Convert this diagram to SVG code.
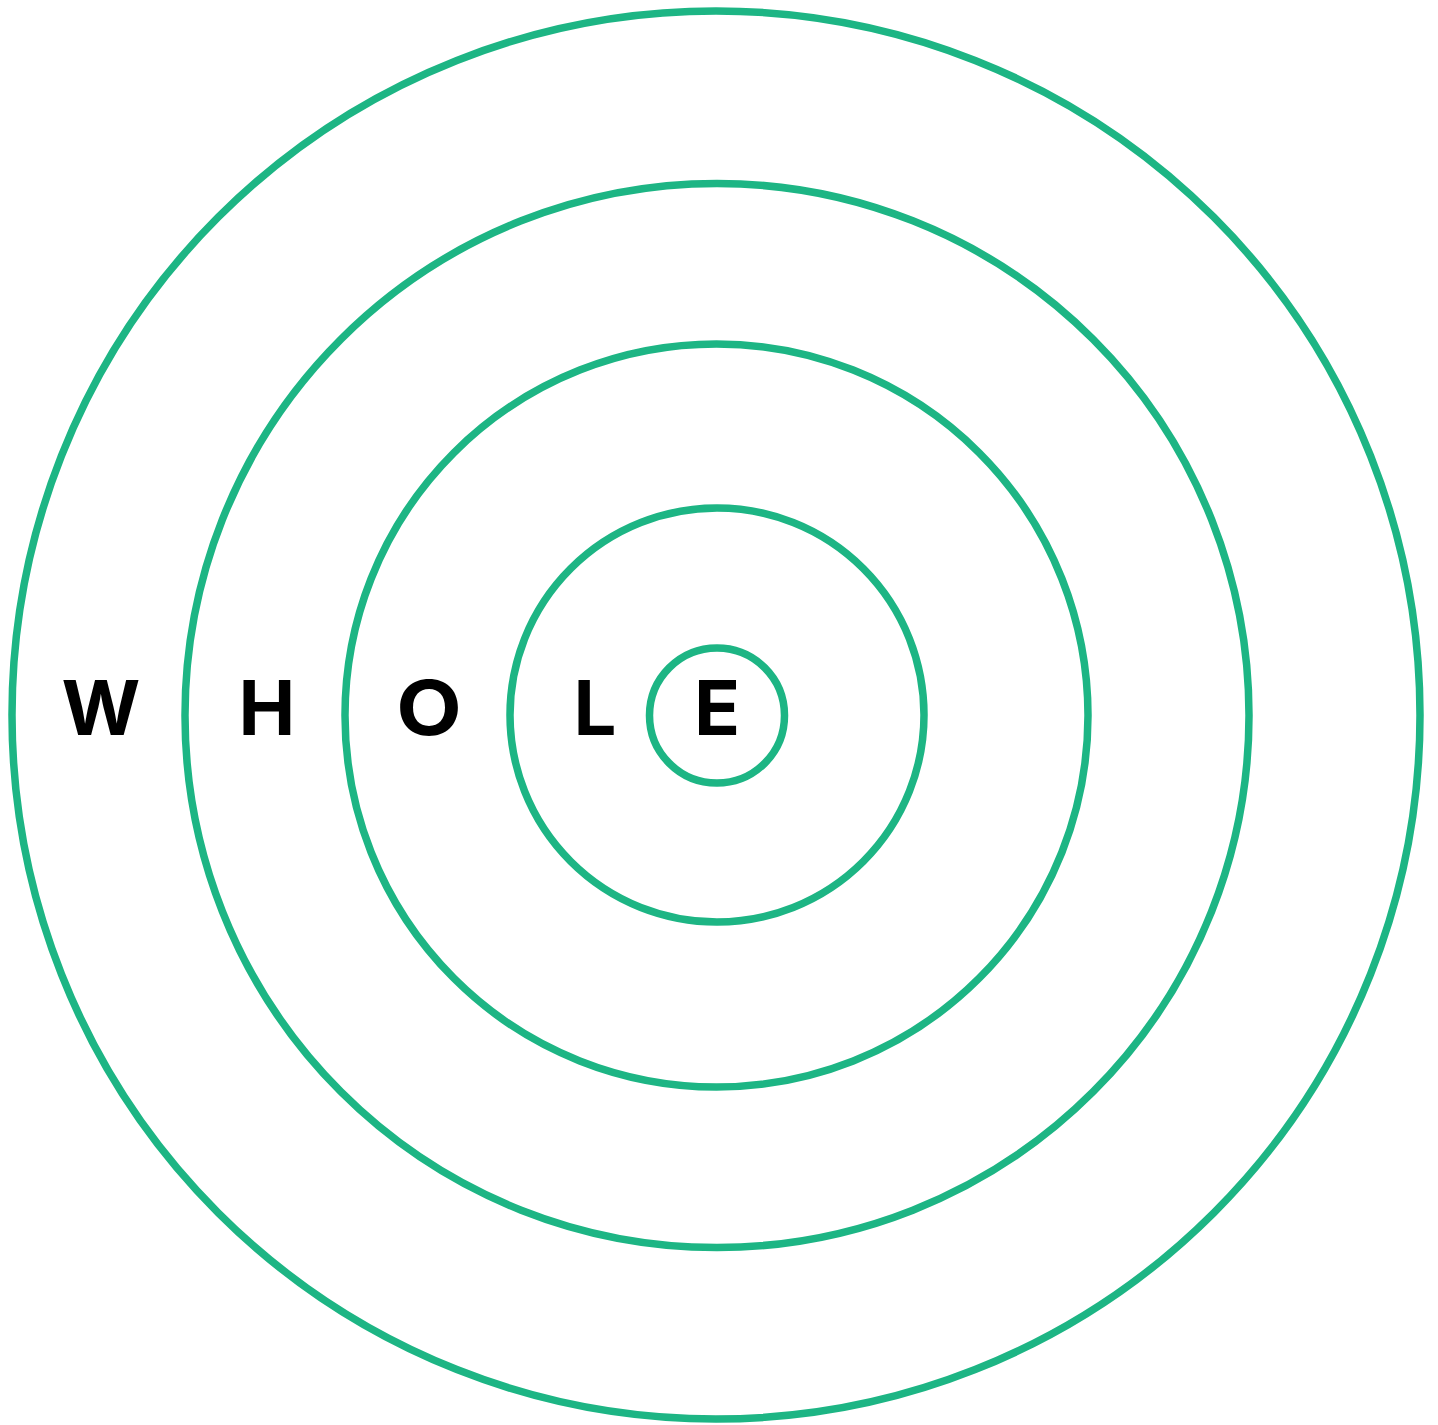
<svg xmlns="http://www.w3.org/2000/svg" width="1438" height="1425" viewBox="0 0 1438 1425">
<style>
.ring{fill:none;stroke:#1db584;stroke-width:7.5}
.ltr{font-family:Inter,"Liberation Sans",sans-serif;font-weight:700;font-size:76px;fill:#000;text-anchor:middle}
</style>
<rect width="1438" height="1425" fill="#fff"/>
<g id="rings">
<circle id="ring1" class="ring" cx="716" cy="715" r="704"/>
<circle id="ring2" class="ring" cx="717" cy="715.5" r="532"/>
<circle id="ring3" class="ring" cx="716.5" cy="715.5" r="371.5"/>
<circle id="ring4" class="ring" cx="717" cy="715" r="207"/>
<circle id="ring5" class="ring" cx="717" cy="715.5" r="67.5"/>
</g>
<g id="word">
<text class="ltr" x="101" y="735">W</text>
<text class="ltr" x="267" y="735">H</text>
<text class="ltr" x="429" y="735" transform="translate(429 0) scale(1.12 1) translate(-429 0)">O</text>
<text class="ltr" x="595" y="735">L</text>
<text class="ltr" x="717" y="735">E</text>
</g>
</svg>
